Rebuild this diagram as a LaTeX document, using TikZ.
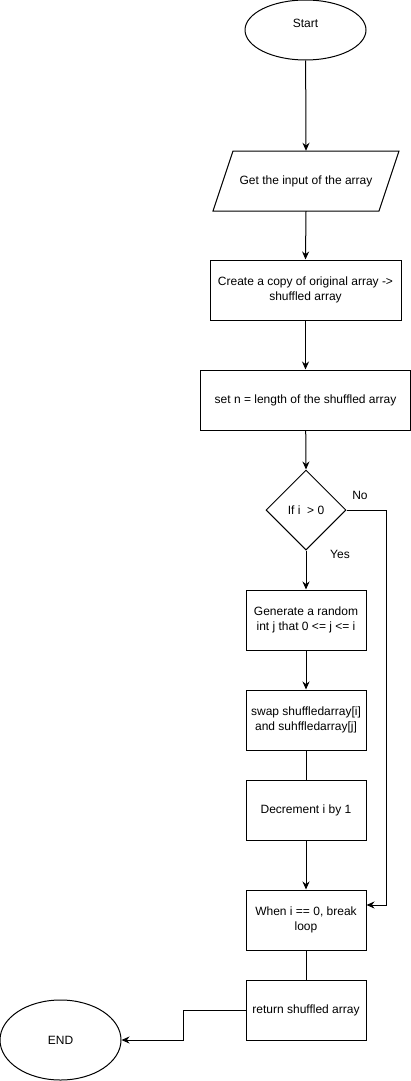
\documentclass[tikz,border=0pt]{standalone}
\usepackage{fontspec}
\setmainfont{Liberation Sans}
\usetikzlibrary{shapes.geometric,arrows.meta}
\begin{document}
\begin{tikzpicture}[x=1pt,y=-1pt,
  font=\fontsize{12}{15}\selectfont,
  every node/.style={inner sep=0pt},
  box/.style={draw,line width=1pt,minimum width=#1,minimum height=60pt,align=center},
  term/.style={draw,ellipse,line width=1pt,minimum width=121pt,minimum height=#1},
  dec/.style={draw,diamond,line width=1pt,minimum width=80pt,minimum height=80pt,aspect=1},
  conn/.style={line width=1pt},
  arr/.style={conn,-{Stealth[length=8pt,width=7pt]}},
  lbl/.style={font=\fontsize{12}{14}\selectfont}]
\useasboundingbox (0,0) rectangle (411,1081);
\node[term=60pt,label={[lbl,yshift=7pt]center:Start}] (start) at (305.5,30) {};
\node[minimum width=186pt,minimum height=60pt,align=center] (input) at (306,181) {Get the input of the array};
\draw[line width=1pt] (213,211) -- (233,151) -- (399,151) -- (379,211) -- cycle;
\node[box=191pt] (copy) at (305.5,290) {Create a copy of original array -\kern0pt>\\shuffled array};
\node[box=210pt] (setn) at (305.5,400) {set n = length of the shuffled array};
\node[dec] (cond) at (306,510) {If i~ > 0};
\node[box=120pt] (gen) at (306,620) {Generate a random\\int j that 0 <= j <= i};
\node[box=120pt] (swap) at (306,720) {swap shuffledarray[i]\\and suhffledarray[j]};
\node[box=120pt] (decr) at (306,810) {Decrement i by 1};
\node[box=120pt] (when) at (306,920) {When i == 0, break\\loop};
\node[box=120pt] (ret) at (306,1010) {return shuffled array};
\node[term=80pt] (end) at (60.5,1040) {END};
\node[lbl] (no) at (360,495) {No};
\node[lbl] (yes) at (340,554) {Yes};
\draw[arr] (start) -- (input.north);
\draw[arr] (input.south) -- (copy.north);
\draw[arr] (copy) -- (setn);
\draw[arr] (setn) -- (cond.north);
\draw[arr] (cond.south) -- (gen.north);
\draw[arr] (cond.east) -- (386.5,510) |- ([yshift=15pt]when.east);
\draw[arr] (gen) -- (swap);
\draw[conn] (swap) -- (decr);
\draw[arr] (decr) -- (when);
\draw[conn] (when) -- (ret);
\draw[arr] (ret.west) -- ++(-62,0) |- (end.east);
\end{tikzpicture}
\end{document}
